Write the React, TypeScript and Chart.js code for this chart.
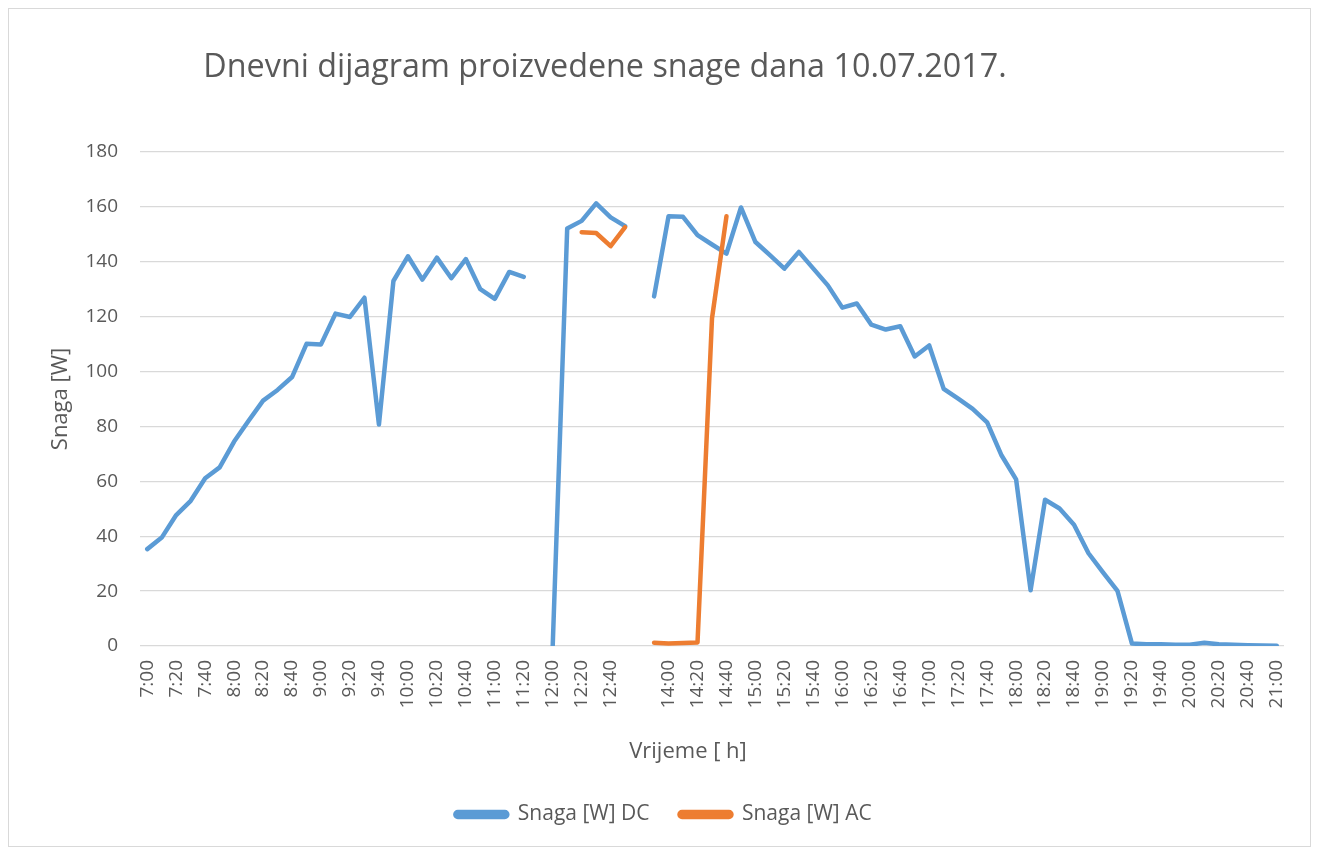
import React, { useEffect, useRef } from "react";
import { Chart, registerables } from "chart.js";

Chart.register(...registerables);

const TITLE = "Dnevni dijagram proizvedene snage dana 10.07.2017.";
const X_TITLE = "Vrijeme [ h]";
const Y_TITLE = "Snaga [W]";
const DC_LABEL = "Snaga [W] DC";
const AC_LABEL = "Snaga [W] AC";

const categories: string[] = [
  "7:00", "7:10", "7:20", "7:30", "7:40", "7:50",
  "8:00", "8:10", "8:20", "8:30", "8:40", "8:50",
  "9:00", "9:10", "9:20", "9:30", "9:40", "9:50",
  "10:00", "10:10", "10:20", "10:30", "10:40", "10:50",
  "11:00", "11:10", "11:20", "11:30",
  "12:00", "12:10", "12:20", "12:30", "12:40", "12:50",
  "", "13:50",
  "14:00", "14:10", "14:20", "14:30", "14:40", "14:50",
  "15:00", "15:10", "15:20", "15:30", "15:40", "15:50",
  "16:00", "16:10", "16:20", "16:30", "16:40", "16:50",
  "17:00", "17:10", "17:20", "17:30", "17:40", "17:50",
  "18:00", "18:10", "18:20", "18:30", "18:40", "18:50",
  "19:00", "19:10", "19:20", "19:30", "19:40", "19:50",
  "20:00", "20:10", "20:20", "20:30", "20:40", "20:50",
  "21:00",
];

const dcValues: (number | null)[] = [
  35.3, 39.5, 47.7, 52.9, 61.1, 65.1,
  74.5, 82.1, 89.4, 93.3, 98.0, 110.1,
  109.9, 121.1, 119.9, 126.9, 80.7, 133.0,
  142.0, 133.5, 141.5, 134.0, 141.0, 130.0,
  126.5, 136.3, 134.5, null,
  0, 152.1, 154.9, 161.3, 156.2, 153.0,
  null, 127.4,
  156.6, 156.4, 149.7, 146.3, 143.0, 159.8,
  147.2, 142.4, 137.5, 143.6, 137.5, 131.4,
  123.3, 124.8, 117.1, 115.3, 116.5, 105.5,
  109.5, 93.7, 90.1, 86.4, 81.5, 69.4,
  60.7, 20.3, 53.3, 50.1, 44.2, 33.8,
  26.8, 20.1, 0.9, 0.6, 0.6, 0.5,
  0.5, 1.2, 0.6, 0.5, 0.3, 0.2,
  0.1,
];

const acValues: (number | null)[] = [
  null, null, null, null, null, null,
  null, null, null, null, null, null,
  null, null, null, null, null, null,
  null, null, null, null, null, null,
  null, null, null, null,
  null, null, 150.8, 150.5, 145.7, 152.6,
  null, 1.2,
  0.9, 1.1, 1.3, 119.4, 156.6, null,
  null, null, null, null, null, null,
  null, null, null, null, null, null,
  null, null, null, null, null, null,
  null, null, null, null, null, null,
  null, null, null, null, null, null,
  null, null, null, null, null, null,
  null,
];

const yTicks = { min: 0, max: 180, step: 20 };

const TEXT = "#595959";
const GRID = "#d9d9d9";
const BLUE = "#5b9bd5";
const ORANGE = "#ed7d31";
const FONT = '"Open Sans", "DejaVu Sans", sans-serif';

const textPlugin = {
  id: "customTexts",
  afterDraw(chart: any) {
    const ctx = chart.ctx;
    ctx.save();
    ctx.fillStyle = TEXT;
    ctx.textAlign = "center";
    ctx.font = `32.3px ${FONT}`;
    ctx.textBaseline = "alphabetic";
    ctx.fillText(TITLE, 596, 68);
    ctx.font = `22px ${FONT}`;
    ctx.textBaseline = "middle";
    ctx.fillText(X_TITLE, 679, 743);
    ctx.restore();
  },
};

export default function App() {
  const canvasRef = useRef<HTMLCanvasElement | null>(null);

  useEffect(() => {
    if (!canvasRef.current) return;
    const chart = new Chart(canvasRef.current, {
      type: "line",
      data: {
        labels: categories,
        datasets: [
          {
            label: DC_LABEL,
            data: dcValues,
            borderColor: BLUE,
            backgroundColor: BLUE,
            borderWidth: 4.5,
            pointRadius: 0,
            pointHoverRadius: 0,
            tension: 0,
            spanGaps: false,
            borderCapStyle: "round",
            borderJoinStyle: "round",
            order: 1,
          },
          {
            label: AC_LABEL,
            data: acValues,
            borderColor: ORANGE,
            backgroundColor: ORANGE,
            borderWidth: 4.5,
            pointRadius: 0,
            pointHoverRadius: 0,
            tension: 0,
            spanGaps: false,
            borderCapStyle: "round",
            borderJoinStyle: "round",
            order: 0,
          },
        ],
      },
      options: {
        animation: false,
        responsive: true,
        maintainAspectRatio: false,
        layout: { padding: { top: 143, right: 26, left: 34, bottom: 11 } },
        plugins: {
          title: { display: false },
          tooltip: { enabled: false },
          legend: {
            display: true,
            position: "bottom",
            labels: {
              color: TEXT,
              font: { family: FONT, size: 21 },
              boxWidth: 52,
              boxHeight: 5,
              useBorderRadius: true,
              borderRadius: 2.5,
              padding: 30,
              sort: (a: any, b: any) => a.datasetIndex - b.datasetIndex,
            },
          },
        },
        scales: {
          x: {
            type: "category",
            offset: true,
            grid: { display: false, drawTicks: false },
            border: { display: false },
            ticks: {
              autoSkip: false,
              maxRotation: 90,
              minRotation: 90,
              padding: 14,
              color: TEXT,
              font: { family: FONT, size: 19 },
              callback: (_v: any, i: number) => (i % 2 === 0 ? categories[i] : ""),
            },
            title: { display: false },
            afterFit: (s: any) => {
              s.height = 128;
              s.paddingLeft = 0;
              s.paddingRight = 0;
            },
          },
          y: {
            min: yTicks.min,
            max: yTicks.max,
            grid: { color: GRID, lineWidth: 1.3, drawTicks: false },
            border: { display: false },
            ticks: {
              stepSize: yTicks.step,
              padding: 22,
              color: TEXT,
              font: { family: FONT, size: 19 },
            },
            title: {
              display: true,
              text: Y_TITLE,
              color: TEXT,
              font: { family: FONT, size: 22 },
              padding: { top: 5, bottom: 0 },
            },
            afterFit: (s: any) => {
              s.width = 97;
            },
          },
        },
      },
      plugins: [textPlugin],
    });
    return () => chart.destroy();
  }, []);

  return (
    <div
      style={{
        width: 1303,
        height: 839,
        border: "1px solid #d9d9d9",
        boxSizing: "border-box",
        position: "relative",
        background: "#ffffff",
      }}
    >
      <canvas ref={canvasRef} />
    </div>
  );
}
